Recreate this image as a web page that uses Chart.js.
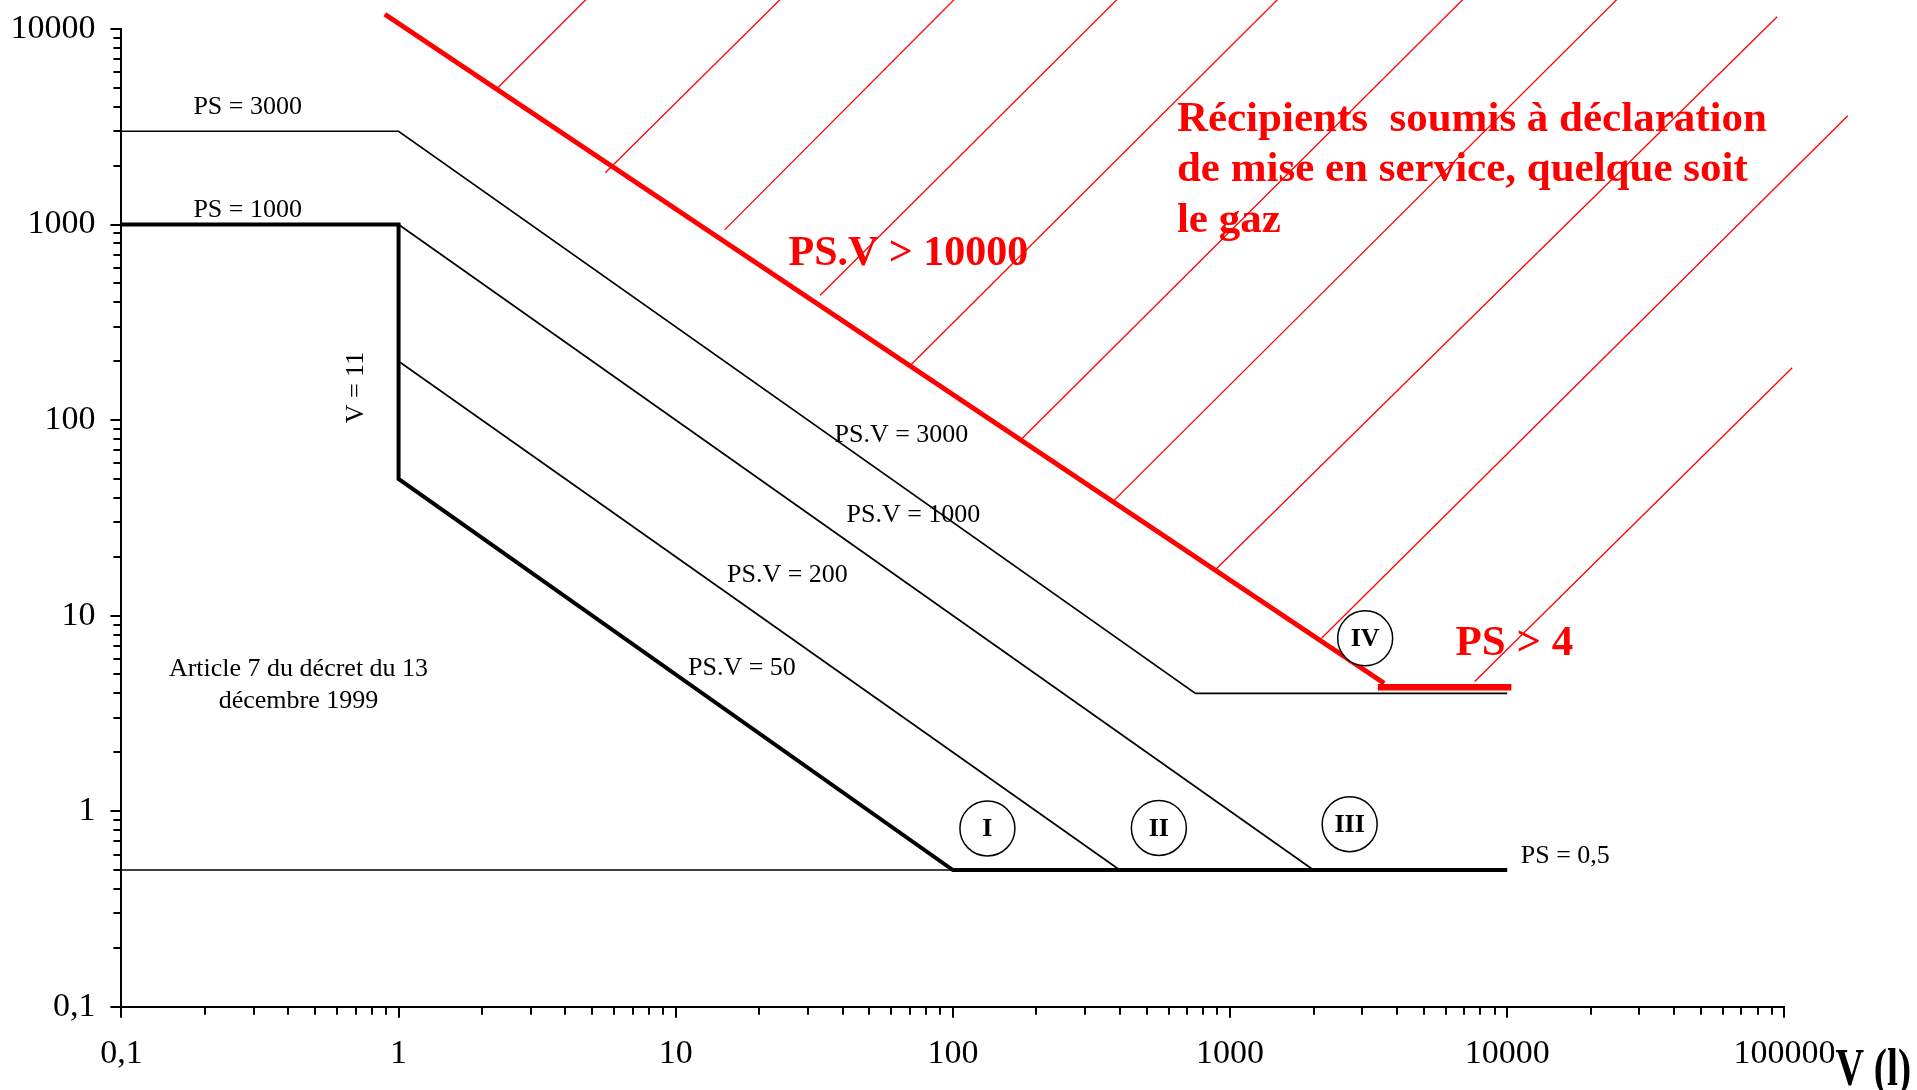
<!DOCTYPE html>
<html>
<head>
<meta charset="utf-8">
<script src="https://cdn.jsdelivr.net/npm/chart.js@4/dist/chart.umd.min.js"></script>
<style>
  html, body { margin: 0; padding: 0; background: #fff; overflow: hidden; }
  #wrap { width: 1917px; height: 1090px; position: relative; }
</style>
</head>
<body>
<div id="wrap"><canvas id="c"></canvas></div>
<script>
// Boundary lines, volume V (litres) against pressure PS (bar)
const limit3000V  = [0.1, 1, 750, 10000];
const limit3000PS = [3000, 3000, 4, 4];
const mainBoundV  = [0.1, 1, 1, 100, 10000];
const mainBoundPS = [1000, 1000, 50, 0.5, 0.5];
const limit1000V  = [1, 2000];
const limit1000PS = [1000, 0.5];
const limit200V   = [1, 400];
const limit200PS  = [200, 0.5];
const floorV      = [0.1, 100];
const floorPS     = [0.5, 0.5];

// Declaration limit (PS.V > 10000) and its PS > 4 floor
const declV  = [0.892, 3597];
const declPS = [11900, 4.51];
const ps4V   = [3413, 10350];
const ps4PS  = [4.3, 4.3];

// Hatching of the declaration zone: lower end (V0, PS0) to upper end (V1, PS1)
const hatchV0  = [2.262, 5.568, 15.01, 33.19, 69.86, 174.4, 375.8, 888.8, 2138, 7633];
const hatchPS0 = [4947, 1840, 938.7, 434.8, 189.1, 78.45, 38.04, 17.28, 7.653, 4.606];
const hatchV1  = [4.96, 24.9, 105.7, 409, 1552, 7230, 26000, 94190, 169300, 106700];
const hatchPS1 = [15070, 15070, 15070, 15070, 15070, 15070, 15070, 11550, 3604, 185.3];

// Categories I to IV
const categoryNames = ['I', 'II', 'III', 'IV'];
const categoryV     = [133.2, 553.5, 2701, 3072];
const categoryPS    = [0.816, 0.821, 0.858, 7.65];

// Axis ticks
const xTicks      = [0.1, 1, 10, 100, 1000, 10000, 100000];
const xTickLabels = ['0,1', '1', '10', '100', '1000', '10000', '100000'];
const yTicks      = [0.1, 1, 10, 100, 1000, 10000];
const yTickLabels = ['0,1', '1', '10', '100', '1000', '10000'];
const minorSteps  = [2, 3, 4, 5, 6, 7, 8, 9];

const SERIF = '"Liberation Serif", "Times New Roman", serif';
const RED = '#ff0000';

// Text placed in data coordinates
const notes = [
  { text: 'PS = 3000',   v: 0.2855, ps: 3960,  size: 26 },
  { text: 'PS = 1000',   v: 0.2855, ps: 1183,  size: 26 },
  { text: 'V = 11',      v: 0.702,  ps: 146.6, size: 26, rotate: true },
  { text: 'PS.V = 3000', v: 65.2,   ps: 83.46, size: 26 },
  { text: 'PS.V = 1000', v: 72.03,  ps: 32.66, size: 26 },
  { text: 'PS.V = 200',  v: 25.29,  ps: 16.16, size: 26 },
  { text: 'PS.V = 50',   v: 17.33,  ps: 5.364, size: 26 },
  { text: 'PS = 0,5',    v: 16200,  ps: 0.5876, size: 26 },
  { text: 'PS.V > 10000', v: 69.1,  ps: 706,   size: 42, bold: true, color: RED },
  { text: 'PS > 4',      v: 10610,  ps: 7.193, size: 43, bold: true, color: RED }
];
const articleLines = ['Article 7 du décret du 13', 'décembre 1999'];
const articleAnchor = { v: 0.4355, ps: 4.394 };
const zoneLines = ['Récipients  soumis à déclaration', 'de mise en service, quelque soit', 'le gaz'];
const zoneAnchor = { v: 642.9, ps: 3022 };

const pts = (xs, ys) => xs.map((x, i) => ({ x: x, y: ys[i] }));
function line(xs, ys, color, width) {
  return {
    data: pts(xs, ys), showLine: true, borderColor: color, borderWidth: width,
    pointRadius: 0, fill: false, tension: 0, clip: false, order: 2,
    borderJoinStyle: 'miter'
  };
}

const datasets = [
  {
    data: pts(categoryV, categoryPS), showLine: false, pointRadius: 27.5,
    pointBorderWidth: 1.5, pointBackgroundColor: '#ffffff', pointBorderColor: '#000000',
    clip: false, order: 0
  },
  line(floorV, floorPS, '#000', 1.7),
  line(limit3000V, limit3000PS, '#000', 1.7),
  line(limit1000V, limit1000PS, '#000', 1.7),
  line(limit200V, limit200PS, '#000', 1.7),
  line(mainBoundV, mainBoundPS, '#000', 4),
  line(declV, declPS, RED, 5),
  line(ps4V, ps4PS, RED, 6.5)
];
hatchV0.forEach((v, i) => {
  datasets.push(line([v, hatchV1[i]], [hatchPS0[i], hatchPS1[i]], RED, 1.3));
});

// Minor ticks (2..9 in each decade) drawn on both axes
const minorTicks = {
  id: 'minorTicks',
  afterDraw(chart) {
    const ctx = chart.ctx, xs = chart.scales.x, ys = chart.scales.y;
    const area = chart.chartArea;
    ctx.save();
    ctx.strokeStyle = '#000';
    ctx.lineWidth = 2;
    ctx.beginPath();
    for (let d = -1; d < 5; d++) {
      minorSteps.forEach(m => {
        const px = Math.round(xs.getPixelForValue(m * Math.pow(10, d)));
        ctx.moveTo(px, area.bottom);
        ctx.lineTo(px, area.bottom + 8);
      });
    }
    for (let d = -1; d < 4; d++) {
      minorSteps.forEach(m => {
        const py = Math.round(ys.getPixelForValue(m * Math.pow(10, d)));
        ctx.moveTo(area.left - 8, py);
        ctx.lineTo(area.left, py);
      });
    }
    ctx.stroke();
    ctx.restore();
  }
};

// Labels, category numerals and the V (l) axis title
const annotations = {
  id: 'annotations',
  afterDraw(chart) {
    const ctx = chart.ctx, xs = chart.scales.x, ys = chart.scales.y;
    ctx.save();
    notes.forEach(n => {
      const px = xs.getPixelForValue(n.v), py = ys.getPixelForValue(n.ps);
      ctx.font = (n.bold ? 'bold ' : '') + n.size + 'px ' + SERIF;
      ctx.fillStyle = n.color || '#000';
      ctx.textAlign = 'center';
      ctx.textBaseline = 'middle';
      if (n.rotate) {
        ctx.save();
        ctx.translate(px, py);
        ctx.rotate(-Math.PI / 2);
        ctx.fillText(n.text, 0, 0);
        ctx.restore();
      } else {
        ctx.fillText(n.text, px, py);
      }
    });

    ctx.font = '26px ' + SERIF;
    ctx.fillStyle = '#000';
    ctx.textAlign = 'center';
    ctx.textBaseline = 'middle';
    const ax = xs.getPixelForValue(articleAnchor.v), ay = ys.getPixelForValue(articleAnchor.ps);
    articleLines.forEach((t, i) => ctx.fillText(t, ax, ay + (i - 0.5) * 32));

    ctx.font = 'bold 43px ' + SERIF;
    ctx.fillStyle = RED;
    ctx.textAlign = 'left';
    ctx.textBaseline = 'alphabetic';
    const zx = xs.getPixelForValue(zoneAnchor.v), zy = ys.getPixelForValue(zoneAnchor.ps);
    zoneLines.forEach((t, i) => ctx.fillText(t, zx, zy + i * 50.5));

    ctx.font = 'bold 26px ' + SERIF;
    ctx.fillStyle = '#000';
    ctx.textAlign = 'center';
    ctx.textBaseline = 'middle';
    categoryNames.forEach((t, i) => {
      ctx.fillText(t, xs.getPixelForValue(categoryV[i]), ys.getPixelForValue(categoryPS[i]) + 1);
    });

    // Axis title, narrow bold face to the right of the last tick label
    ctx.save();
    ctx.font = 'bold 52px ' + SERIF;
    ctx.textAlign = 'left';
    ctx.textBaseline = 'alphabetic';
    ctx.translate(chart.chartArea.right + 51, 1085);
    ctx.scale(0.76, 1);
    ctx.fillText('V (l)', 0, 0);
    ctx.restore();
    ctx.restore();
  }
};

const axisCommon = {
  type: 'logarithmic',
  grid: { drawOnChartArea: false, drawTicks: true, tickLength: 11, color: '#000', lineWidth: 2 },
  border: { display: true, color: '#000', width: 2 }
};

new Chart(document.getElementById('c'), {
  type: 'scatter',
  data: { datasets: datasets },
  options: {
    responsive: true,
    maintainAspectRatio: false,
    animation: false,
    events: [],
    layout: { padding: { top: 25, right: 132.6, left: 0, bottom: 0 } },
    plugins: { legend: { display: false }, tooltip: { enabled: false } },
    scales: {
      x: Object.assign({}, axisCommon, {
        position: 'bottom',
        min: 0.1, max: 100000,
        afterBuildTicks: s => { s.ticks = xTicks.map(v => ({ value: v })); },
        afterFit: s => {
          s.height = 83.3;
          s.paddingLeft = 0; s.paddingRight = 0;
        },
        ticks: {
          autoSkip: false, maxRotation: 0, minRotation: 0, padding: 16,
          color: '#000', font: { family: SERIF, size: 34 },
          callback: v => xTickLabels[xTicks.indexOf(v)]
        }
      }),
      y: Object.assign({}, axisCommon, {
        position: 'left',
        min: 0.1, max: 10000,
        afterBuildTicks: s => { s.ticks = yTicks.map(v => ({ value: v })); },
        afterFit: s => {
          s.width = 121.4;
          s.paddingTop = 0; s.paddingBottom = 0;
        },
        ticks: {
          autoSkip: false, padding: 15,
          color: '#000', font: { family: SERIF, size: 34 },
          callback: v => yTickLabels[yTicks.indexOf(v)]
        }
      })
    }
  },
  plugins: [minorTicks, annotations]
});
</script>
</body>
</html>
